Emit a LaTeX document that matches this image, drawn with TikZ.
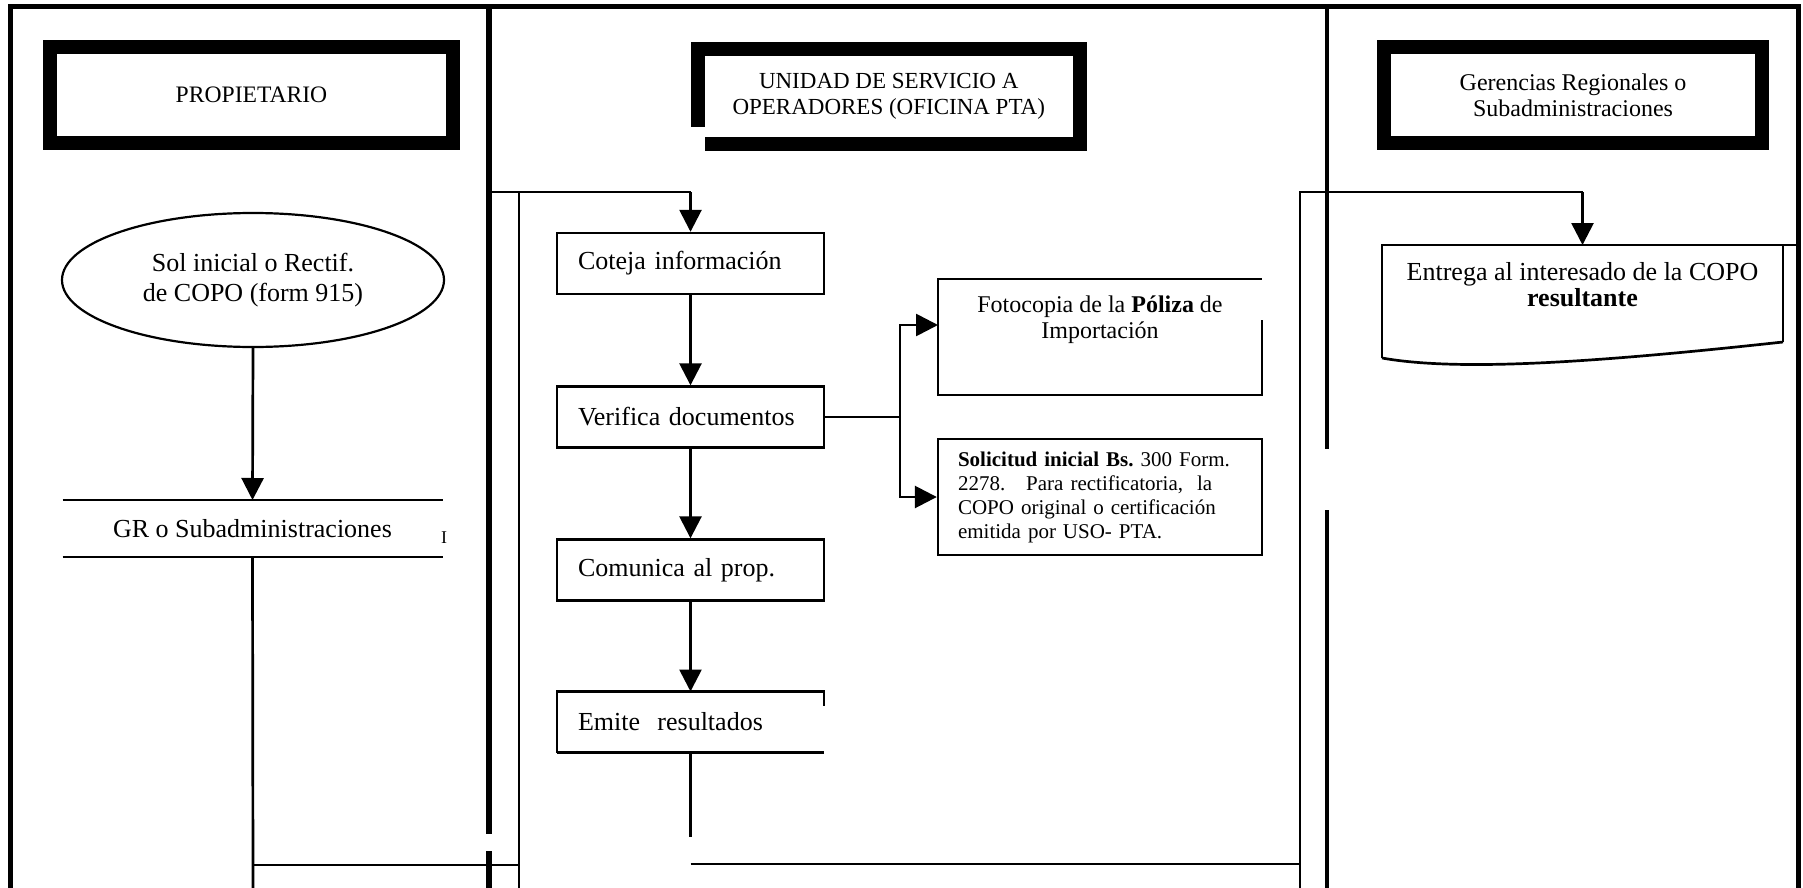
\documentclass[tikz,border=0pt]{standalone}
\usepackage{fontspec}
\setmainfont{Liberation Serif}
\usetikzlibrary{arrows.meta,shapes.geometric,calc}
\frenchspacing
\begin{document}
\begin{tikzpicture}[x=0.5pt,y=-0.5pt,
  conn/.style={line width=1.35pt},
  arr/.style={conn,-{Triangle[length=11pt,width=11pt]}},
  frame/.style={line width=2.5pt},
  hdr/.style={line width=7pt,align=center,inner sep=0pt,outer sep=0pt},
  pbox/.style={draw,line width=1.2pt,minimum height=30.5pt,text width=112.5pt,inner xsep=10.5pt,align=left,font=\fontsize{13}{15}\selectfont},
  ell/.style={ellipse,draw,line width=1.1pt,minimum width=191pt,minimum height=67pt,inner sep=0pt,align=center,font=\fontsize{13}{15}\selectfont}
]
\useasboundingbox (0,0) rectangle (1803,888);
\fill[white] (0,0) rectangle (1803,888);

% outer frame and lane dividers
\draw[frame] (10,888) -- (10,7) -- (1798,7) -- (1798,888);
\draw[line width=3pt] (489,7) -- (489,834);
\draw[line width=3pt] (489,851) -- (489,888);
\draw[line width=2.2pt] (1327,7) -- (1327,449);
\draw[line width=2.2pt] (1327,510) -- (1327,888);

% lane headers
\node[hdr,draw,minimum width=201.5pt,minimum height=48pt,font=\fontsize{11.8}{13}\selectfont] (hprop) at (251.5,95) {PROPIETARIO};
\node[hdr,minimum width=191.25pt,minimum height=47pt,font=\fontsize{11.5}{13}\selectfont] (hunid) at (888.75,96.5) {UNIDAD DE SERVICIO A\\OPERADORES (OFICINA PTA)};
\draw[line width=7pt] ([yshift=8.25pt]hunid.south west) -- (hunid.north west) -- (hunid.north east) -- (hunid.south east) -- ([xshift=3.75pt]hunid.south west);
\node[hdr,draw,minimum width=189pt,minimum height=48pt,font=\fontsize{12}{13}\selectfont] (hger) at (1573,95) {Gerencias Regionales o\\Subadministraciones};

% PROPIETARIO lane
\node[ell] (sol) at (253,280) {Sol inicial o Rectif.\\de COPO (form 915)};
\node[minimum width=190pt,minimum height=28.5pt,inner sep=0pt,outer sep=0pt,font=\fontsize{13}{15}\selectfont] (gr) at (252.5,528.5) {GR o Subadministraciones};
\draw[conn] (gr.north west) -- (gr.north east);
\draw[conn] (gr.south west) -- (gr.south east);
\node[inner sep=0pt,font=\fontsize{9}{9}\selectfont] (cur) at (444,538) {I};
\draw[arr] (sol.south) -- (gr.north);

\coordinate (gbot) at (253,888);
\coordinate (j1) at (253,865);
\coordinate (j2) at (519,865);
\coordinate (j2b) at (519,888);
\coordinate (j3) at (519,192);
\coordinate (j0) at (489,192);
\draw[conn] (gr.south) -- (gbot);
\draw[conn] (j1) -- (j2);
\draw[conn] (j2b) -- (j3);

% UNIDAD lane
\node[pbox] (cot) at (690.5,263.5) {Coteja información};
\node[pbox] (ver) at (690.5,417) {Verifica documentos};
\node[pbox] (com) at (690.5,570) {Comunica al prop.};
\node[pbox,draw=none,outer sep=0pt] (emi) at (690.5,722) {Emite\ \ resultados};
\draw[conn] ([yshift=-7pt]emi.north east) -- (emi.north east) -- (emi.north west) -- (emi.south west);
\draw[line width=1.8pt] (emi.south west) -- (emi.south east);

\draw[conn] (j0) -- (cot.north |- j0);
\draw[arr] (cot.north |- j0) -- (cot.north);
\draw[arr] (cot.south) -- (ver.north);
\draw[arr] (ver.south) -- (com.north);
\draw[arr] (com.south) -- (emi.north);

% documents
\node[minimum width=162pt,minimum height=58pt,inner sep=0pt,outer sep=0pt] (foto) at (1100,337) {};
\node[align=center,inner sep=0pt,font=\fontsize{12}{13}\selectfont] (fotot) at (1100,320) {Fotocopia de la \textbf{Póliza} de\\Importación};
\draw[conn] ([yshift=-20.5pt]foto.north east) -- (foto.south east) -- (foto.south west) -- (foto.north west) -- (foto.north east);

\node[draw,line width=1.2pt,minimum height=58pt,text width=142pt,inner xsep=10pt,align=left,font=\fontsize{10.5}{12}\selectfont] (req) at (1100,497)
  {\textbf{Solicitud inicial Bs.} 300 Form.\\2278.\ \ \ Para rectificatoria,\ \ la\\COPO original o certificación\\emitida por USO- PTA.};

\coordinate (br) at (900,417);
\draw[conn] (ver.east) -- (br);
\draw[arr] (br) |- ([yshift=6pt]foto.west);
\draw[arr] (br) |- (req.west);

% return to Gerencias lane
\coordinate (e1) at (690.5,837);
\coordinate (r1) at (690.5,864);
\coordinate (r2) at (1300,864);
\coordinate (r2b) at (1300,888);
\coordinate (r3) at (1300,192);
\draw[conn] (emi.south) -- (e1);
\draw[conn] (r1) -- (r2);

% Gerencias lane
\node[minimum width=200.5pt,minimum height=56.5pt,inner sep=0pt,outer sep=0pt] (ent) at (1582.5,301.5) {};
\node[align=center,inner sep=0pt,font=\fontsize{13}{13}\selectfont] (entt) at (1582.5,285) {Entrega al interesado de la COPO\\\textbf{resultante}};
\draw[conn] (ent.south west) -- (ent.north west) -- ([xshift=7pt]ent.north east);
\draw[conn] (ent.north east) -- ([yshift=8pt]ent.south east);
\draw[conn] (ent.south west) .. controls (1460,372) and (1600,362) .. ([yshift=8pt]ent.south east);

\draw[conn] (r2b) -- (r3) -- (ent.north |- r3);
\draw[arr] (ent.north |- r3) -- (ent.north);
\end{tikzpicture}
\end{document}
